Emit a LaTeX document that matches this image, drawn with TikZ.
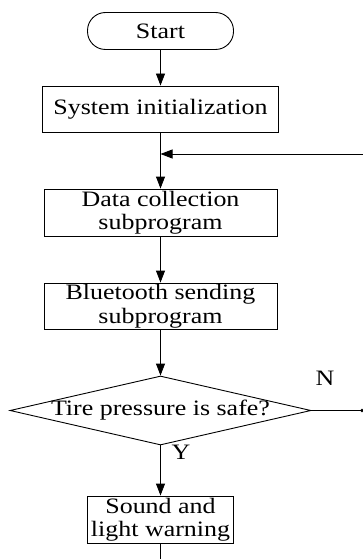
\documentclass[tikz,border=0pt]{standalone}
\usepackage{fontspec}
\setmainfont{Liberation Serif}[FakeStretch=1.18]
\usetikzlibrary{shapes.geometric,arrows.meta}
\begin{document}
\begin{tikzpicture}[x=1pt,y=1pt,
  every node/.style={font=\fontsize{22pt}{23.5pt}\selectfont},
  line/.style={line width=0.9pt},
  arr/.style={line, -{Triangle[length=12pt,width=9pt]}},
  box/.style={draw, line width=0.9pt, rectangle, align=center, inner sep=0pt},
  term/.style={box, rounded corners=18pt},
  decision/.style={draw, line width=0.9pt, diamond, aspect=4.36, inner sep=0pt, minimum width=301pt, minimum height=69pt}
]
\useasboundingbox (0,0) rectangle (363,-559);
\node[term, minimum width=146pt, minimum height=37pt] (start) at (160.5,-31) {Start};
\node[box, minimum width=236pt, minimum height=46pt] (init) at (160.5,-109) {System initialization};
\node[box, minimum width=233pt, minimum height=47pt] (data) at (160.5,-212.5) {Data collection\\subprogram};
\node[box, minimum width=233pt, minimum height=46pt] (bt) at (160.5,-306) {Bluetooth sending\\subprogram};
\node[decision] (dec) at (160.5,-410.5) {\makebox[196pt]{Tire pressure is safe?}};
\node[box, minimum width=146pt, minimum height=47pt] (warn) at (160.5,-519.5) {Sound and\\light warning};
\node (N) at (325,-378) {N};
\node (Y) at (181,-452) {Y};
\coordinate (merge) at (160.5,-154);
\coordinate (loopR) at (363,-154);
\coordinate (nR) at (362,-410.5);
\coordinate (bottom) at (160.5,-559);
\draw[arr] (start) -- (init);
\draw[arr] (init) -- (data);
\draw[arr] (loopR) -- (merge);
\draw[arr] (data) -- (bt);
\draw[arr] (bt) -- (dec);
\draw[arr] (dec) -- (warn);
\draw[line] (dec.east) -- (nR);
\fill (nR) circle (1.8pt);
\draw[line] (warn) -- (bottom);
\end{tikzpicture}
\end{document}
